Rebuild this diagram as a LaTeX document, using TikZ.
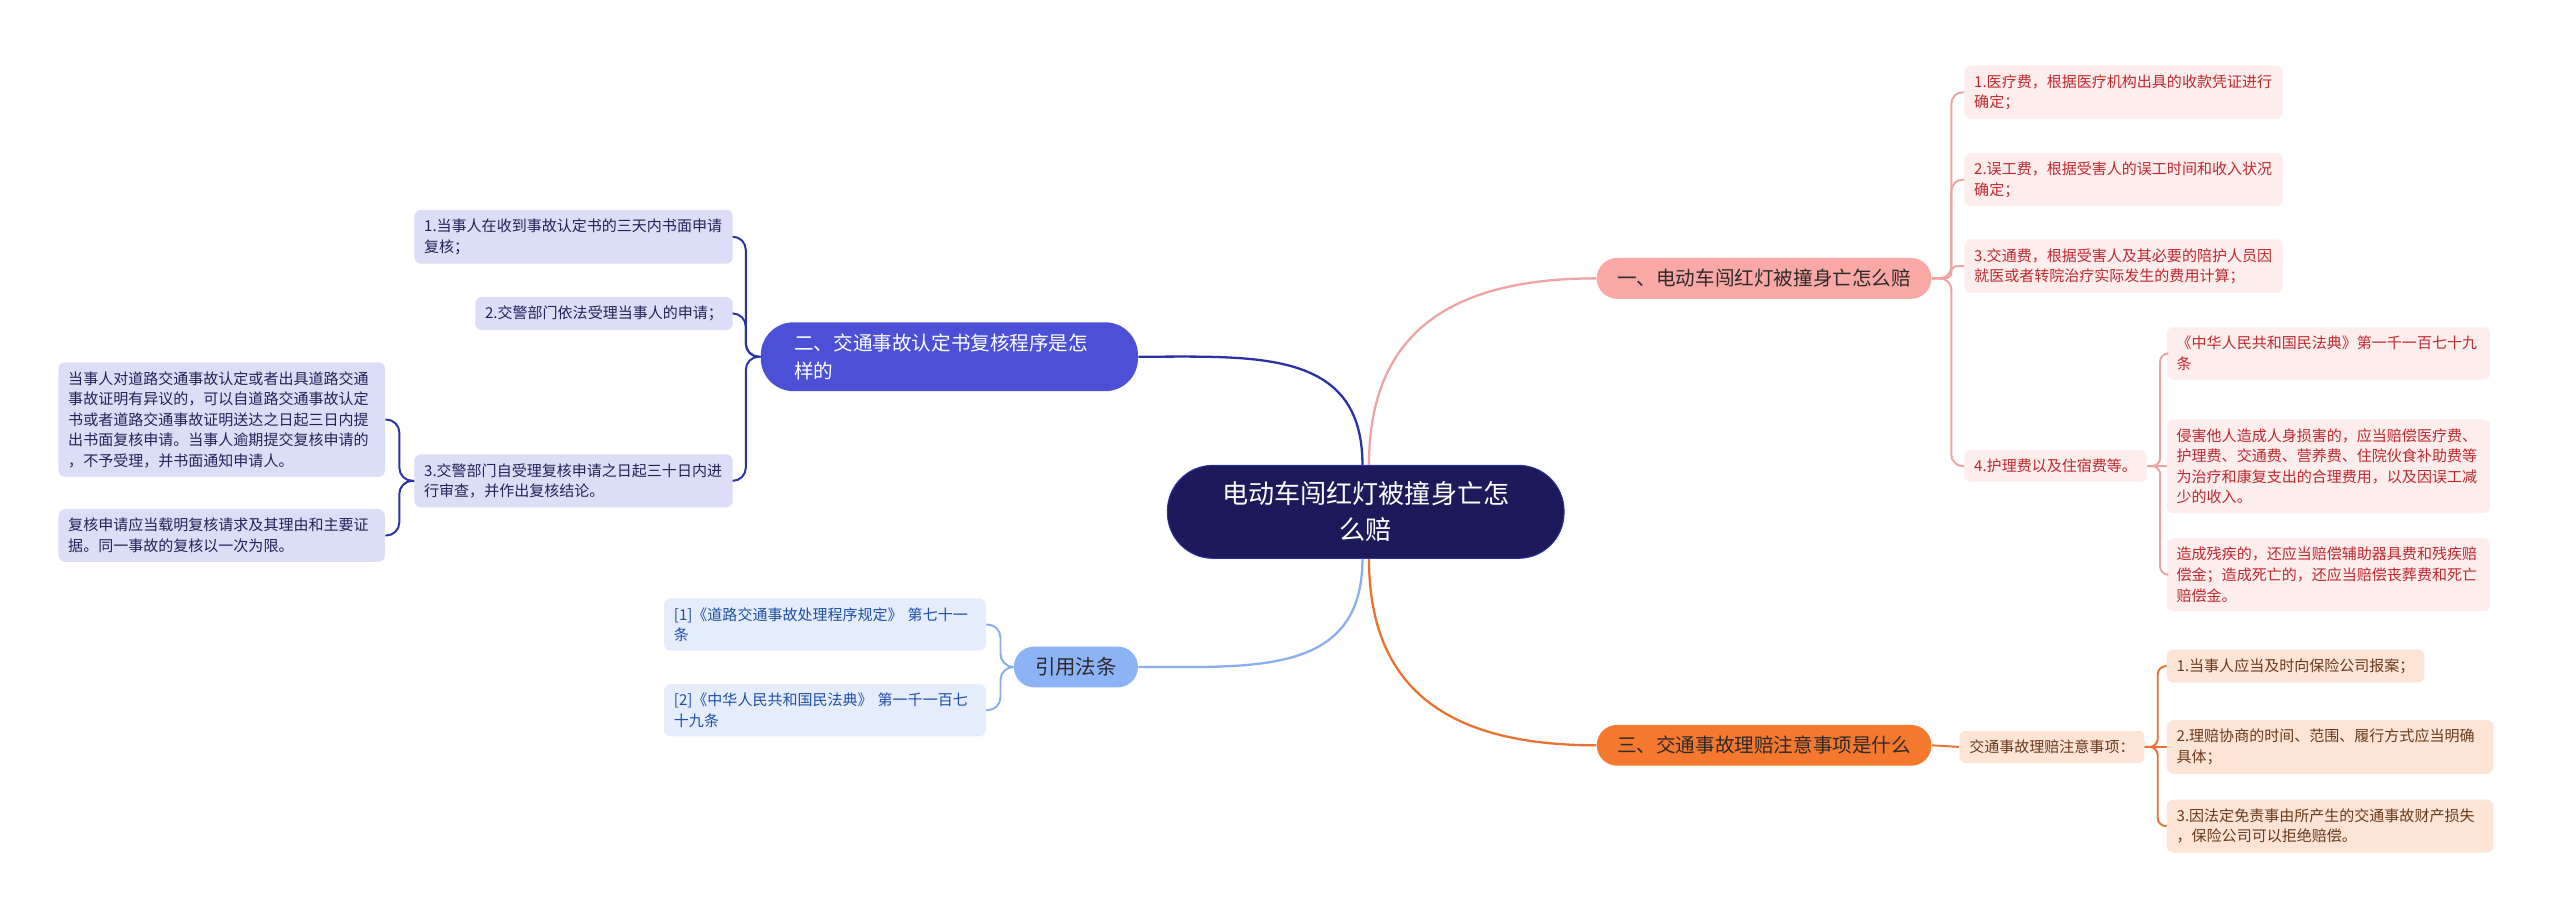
\documentclass[tikz,border=0pt]{standalone}
\usepackage{fontspec}
\setmainfont{Noto Sans CJK SC}
\definecolor{centerF}{HTML}{1C1A5A}
\definecolor{pinkB}{HTML}{F9A8A6}
\definecolor{pinkL}{HTML}{FDEDED}
\definecolor{pinkT}{HTML}{C0282E}
\definecolor{pinkLine}{HTML}{F0A3A3}
\definecolor{orangeB}{HTML}{F5782F}
\definecolor{orangeL}{HTML}{FDE4D5}
\definecolor{orangeT}{HTML}{6B3A1A}
\definecolor{orangeLine}{HTML}{E8722F}
\definecolor{blueB}{HTML}{4B50D6}
\definecolor{blueL}{HTML}{DCDDF7}
\definecolor{blueT}{HTML}{23235A}
\definecolor{blueLine}{HTML}{2B31A6}
\definecolor{lblueB}{HTML}{8CB3F6}
\definecolor{lblueL}{HTML}{E5EDFC}
\definecolor{lblueT}{HTML}{1D4FA8}
\definecolor{lblueLine}{HTML}{8AAFEE}
\definecolor{darkT}{HTML}{2E2A2A}
\begin{document}
\begin{tikzpicture}[x=1pt,y=1pt,
  leafbase/.style={inner xsep=6pt, inner ysep=5.5pt, align=left, rounded corners=4pt,
    font=\fontsize{9.2}{12.6}\selectfont},
  leafP/.style={leafbase, fill=pinkL, text=pinkT, anchor=west},
  leafO/.style={leafbase, fill=orangeL, text=orangeT, anchor=west},
  leafB/.style={leafbase, fill=blueL, text=blueT, anchor=east},
  leafR/.style={leafbase, fill=lblueL, text=lblueT, anchor=east},
  pill/.style={inner xsep=12.5pt, inner ysep=4pt, minimum height=25pt, rounded corners=12.5pt,
    font=\fontsize{12}{14}\selectfont},
  mainline/.style={line width=1.4pt},
  subline/.style={line width=1.2pt}
]
\fill[white] (0,0) rectangle (1568,-564);
\useasboundingbox (0,0) rectangle (1568,-564);

% center
\node[fill=centerF, draw=blueLine, line width=0.6pt, text=white, align=center, minimum width=243pt,
  minimum height=57pt, rounded corners=28pt, font=\fontsize{16}{22}\selectfont] (C) at (836.5,-313.5)
  {电动车闯红灯被撞身亡怎\\么赔};

% branches
\node[pill, fill=pinkB, text=darkT] (P) at (1080.5,-170.5) {一、电动车闯红灯被撞身亡怎么赔};
\node[pill, fill=orangeB, text=darkT] (O) at (1080.5,-456.5) {三、交通事故理赔注意事项是什么};
\node[pill, fill=blueB, text=white, align=left, text width=190pt, inner xsep=20.5pt, inner ysep=7pt,
  rounded corners=20pt, font=\fontsize{12}{17}\selectfont] (B) at (581.5,-218.5)
  {二、交通事故认定书复核程序是怎\\样的};
\node[pill, fill=lblueB, text=darkT, inner xsep=13pt, font=\fontsize{12.5}{14}\selectfont] (R) at (659,-408.5) {引用法条};

% pink leaves
\node[leafP, text width=183pt] (p1) at (1203,-56.5) {1.医疗费，根据医疗机构出具的收款凭证进行\\确定；};
\node[leafP, text width=183pt] (p2) at (1203,-110) {2.误工费，根据受害人的误工时间和收入状况\\确定；};
\node[leafP, text width=183pt] (p3) at (1203,-163) {3.交通费，根据受害人及其必要的陪护人员因\\就医或者转院治疗实际发生的费用计算；};
\node[leafP] (p4) at (1203,-285.5) {4.护理费以及住宿费等。};
\node[leafP, text width=186pt] (p4a) at (1327,-216.5) {《中华人民共和国民法典》第一千一百七十九\\条};
\node[leafP, text width=186pt] (p4b) at (1327,-285.5) {侵害他人造成人身损害的，应当赔偿医疗费、\\护理费、交通费、营养费、住院伙食补助费等\\为治疗和康复支出的合理费用，以及因误工减\\少的收入。};
\node[leafP, text width=186pt] (p4c) at (1327,-352) {造成残疾的，还应当赔偿辅助器具费和残疾赔\\偿金；造成死亡的，还应当赔偿丧葬费和死亡\\赔偿金。};

% orange leaves
\node[leafO] (o0) at (1200,-457.5) {交通事故理赔注意事项：};
\node[leafO] (o1) at (1327,-408) {1.当事人应当及时向保险公司报案；};
\node[leafO, text width=188pt] (o2) at (1327,-457.5) {2.理赔协商的时间、范围、履行方式应当明确\\具体；};
\node[leafO, text width=188pt] (o3) at (1327,-506) {3.因法定免责事由所产生的交通事故财产损失\\，保险公司可以拒绝赔偿。};

% dark blue leaves
\node[leafB, text width=183pt] (b1) at (449,-145) {1.当事人在收到事故认定书的三天内书面申请\\复核；};
\node[leafB] (b2) at (449,-192) {2.交警部门依法受理当事人的申请；};
\node[leafB, text width=183pt] (b3) at (449,-294.5) {3.交警部门自受理复核申请之日起三十日内进\\行审查，并作出复核结论。};
\node[leafB, text width=188pt] (bb1) at (236,-257) {当事人对道路交通事故认定或者出具道路交通\\事故证明有异议的，可以自道路交通事故认定\\书或者道路交通事故证明送达之日起三日内提\\出书面复核申请。当事人逾期提交复核申请的\\，不予受理，并书面通知申请人。};
\node[leafB, text width=188pt] (bb2) at (236,-328) {复核申请应当载明复核请求及其理由和主要证\\据。同一事故的复核以一次为限。};

% light blue leaves
\node[leafR, text width=185pt] (r1) at (604,-382.5) {[1]《道路交通事故处理程序规定》 第七十一\\条};
\node[leafR, text width=185pt] (r2) at (604,-435) {[2]《中华人民共和国民法典》 第一千一百七\\十九条};

% main connectors
\draw[mainline, pinkLine] ([xshift=2pt]C.north) to[out=90,in=180,looseness=1.2] (P.west);
\draw[mainline, blueLine] ([xshift=-2pt]C.north) to[out=90,in=0,looseness=1.2] (B.east);
\draw[mainline, lblueLine] ([xshift=-2pt]C.south) to[out=-90,in=0,looseness=1.2] (R.east);
\draw[mainline, orangeLine] ([xshift=2pt]C.south) to[out=-90,in=180,looseness=1.2] (O.west);

% pink connectors
\draw[subline, pinkLine, rounded corners=7pt] (P.east) -- ++(12,0) |- (p1.west);
\draw[subline, pinkLine, rounded corners=7pt] (P.east) -- ++(12,0) |- (p2.west);
\draw[subline, pinkLine, rounded corners=3.5pt] (P.east) -- ++(12,0) |- (p3.west);
\draw[subline, pinkLine, rounded corners=7pt] (P.east) -- ++(12,0) |- (p4.west);
\draw[subline, pinkLine, rounded corners=5pt] (p4.east) -- ++(8,0) |- (p4a.west);
\draw[subline, pinkLine] (p4.east) -- (p4b.west);
\draw[subline, pinkLine, rounded corners=5pt] (p4.east) -- ++(8,0) |- (p4c.west);

% orange connectors
\draw[subline, orangeLine] (O.east) -- (o0.west);
\draw[subline, orangeLine, rounded corners=5pt] (o0.east) -- ++(8,0) |- (o1.west);
\draw[subline, orangeLine] (o0.east) -- (o2.west);
\draw[subline, orangeLine, rounded corners=5pt] (o0.east) -- ++(8,0) |- (o3.west);

% dark blue connectors
\draw[subline, blueLine, rounded corners=8pt] (B.west) -- ++(-9,0) |- (b1.east);
\draw[subline, blueLine, rounded corners=8pt] (B.west) -- ++(-9,0) |- (b2.east);
\draw[subline, blueLine, rounded corners=8pt] (B.west) -- ++(-9,0) |- (b3.east);
\draw[subline, blueLine, rounded corners=8pt] (b3.west) -- ++(-9,0) |- (bb1.east);
\draw[subline, blueLine, rounded corners=8pt] (b3.west) -- ++(-9,0) |- (bb2.east);

% light blue connectors
\draw[subline, lblueLine, rounded corners=8pt] (R.west) -- ++(-8,0) |- (r1.east);
\draw[subline, lblueLine, rounded corners=8pt] (R.west) -- ++(-8,0) |- (r2.east);
\end{tikzpicture}
\end{document}
